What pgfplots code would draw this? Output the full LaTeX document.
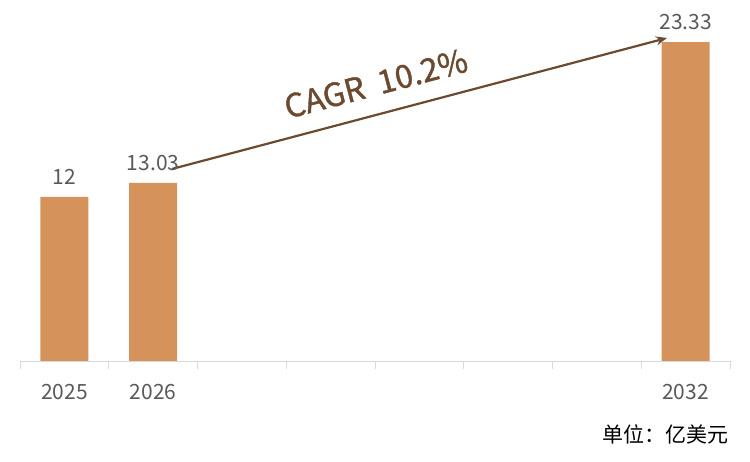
\documentclass[border=0pt]{standalone}
\usepackage{pgfplots}
\pgfplotsset{compat=1.18}
\usetikzlibrary{arrows.meta}
\usepackage{fontspec}
\setmainfont{Noto Sans CJK SC}
\newfontfamily\cagrfont[FakeBold=1.2]{Noto Sans CJK SC}
\definecolor{barc}{HTML}{D5925A}
\definecolor{arrc}{HTML}{6B4A30}
\definecolor{txt}{HTML}{595959}
\definecolor{axc}{HTML}{D9D9D9}
\begin{document}
\begin{tikzpicture}[x=1pt,y=1pt]
\useasboundingbox (0,0) rectangle (750,461);
\begin{axis}[
  at={(20pt,100pt)}, anchor=south west,
  scale only axis, width=710pt, height=361pt,
  xmin=-0.5, xmax=7.5, ymin=0, ymax=26.41,
  axis line style={draw=none},
  axis x line*=bottom,
  axis y line=none,
  xtick={-0.5,0.5,...,7.5}, xticklabels={},
  tick align=outside, major tick length=8pt,
  tick style={draw=axc, line width=0.8pt},
  extra x ticks={0,1,7}, extra x tick labels={2025,2026,2032},
  extra x tick style={major tick length=0pt, tick label style={yshift=-20pt}},
  x tick label style={font=\fontsize{21}{21}\selectfont, text=txt},
  /pgf/number format/assume math mode=true,
  ybar, bar width=48pt,
  nodes near coords,
  nodes near coords style={font=\fontsize{21}{21}\selectfont, text=txt, yshift=9pt},
  point meta=explicit symbolic,
  clip=false,
]
\addplot[fill=barc, draw=none] table[meta=label] {
x y label
0 12 12
1 13.03 13.03
7 23.33 23.33
};
\draw[axc, line width=0.8pt] (axis cs:-0.5,0) -- (axis cs:7.5,0);
\draw[arrc, line width=2.2pt, -{Stealth[length=11pt,width=9pt]}] (axis cs:1.213,14.05) -- (axis cs:6.79,23.63);
\node[text=arrc, font=\cagrfont\fontsize{32}{32}\selectfont, rotate=14.8] at (axis cs:3.51,20.3) {CAGR~~10.2\%};
\end{axis}
\node[anchor=east, text=black, font=\fontsize{21}{21}\selectfont] at (732,27) {单位：亿美元};
\end{tikzpicture}
\end{document}
